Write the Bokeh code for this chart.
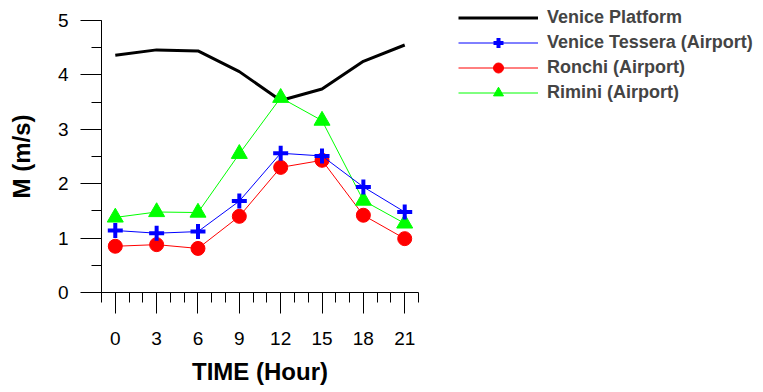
from bokeh.plotting import figure
from bokeh.models import Range1d, SingleIntervalTicker, Legend, LegendItem
from bokeh.embed import file_html
from bokeh.resources import INLINE

hours = [0, 3, 6, 9, 12, 15, 18, 21]
venice_platform = [4.36, 4.46, 4.44, 4.06, 3.53, 3.74, 4.25, 4.55]
venice_tessera = [1.14, 1.09, 1.12, 1.68, 2.56, 2.51, 1.94, 1.48]
ronchi = [0.85, 0.88, 0.81, 1.40, 2.30, 2.43, 1.42, 0.99]
rimini = [1.38, 1.48, 1.47, 2.55, 3.58, 3.16, 1.69, 1.27]
names = ["Venice Platform", "Venice Tessera (Airport)", "Ronchi (Airport)", "Rimini (Airport)"]

FONT = "Liberation Sans"

p = figure(frame_width=317, frame_height=272, x_range=Range1d(-1, 22), y_range=Range1d(0, 5),
           output_backend="svg", toolbar_location=None,
           min_border_left=101, min_border_right=0, min_border_top=20, min_border_bottom=91)
p.outline_line_color = None
p.xgrid.visible = False
p.ygrid.visible = False
p.background_fill_color = "white"
p.border_fill_color = "white"

p.xaxis.ticker = SingleIntervalTicker(interval=3, num_minor_ticks=3)
p.yaxis.ticker = SingleIntervalTicker(interval=1, num_minor_ticks=2)
for ax in (p.xaxis, p.yaxis):
    ax.major_tick_out = 21
    ax.major_tick_in = 0
    ax.minor_tick_out = 10
    ax.minor_tick_in = 0
    ax.axis_line_color = "black"
    ax.major_tick_line_color = "black"
    ax.minor_tick_line_color = "black"
    ax.major_label_text_font = FONT
    ax.major_label_text_font_size = "19px"
    ax.major_label_text_color = "black"
    ax.axis_label_text_font = FONT
    ax.axis_label_text_font_size = "24px"
    ax.axis_label_text_font_style = "bold"
    ax.axis_label_text_color = "black"
p.xaxis.axis_label = "TIME (Hour)"
p.yaxis.axis_label = "M (m/s)"
p.xaxis.major_label_standoff = 18
p.xaxis.axis_label_standoff = 10
p.yaxis.major_label_standoff = 12
p.yaxis.axis_label_standoff = 20

r_black = p.line(hours, venice_platform, line_color="black", line_width=3)
r_red_l = p.line(hours, ronchi, line_color="#FF0000", line_width=1)
r_red_m = p.scatter(hours, ronchi, marker="circle", size=14, fill_color="#FF0000", line_color="#FF0000")
r_grn_l = p.line(hours, rimini, line_color="#00FF00", line_width=1)
r_grn_m = p.scatter(hours, rimini, marker="triangle", size=16, fill_color="#00FF00", line_color="#00FF00")
r_blu_l = p.line(hours, venice_tessera, line_color="#0000FF", line_width=1)
r_blu_m = p.scatter(hours, venice_tessera, marker="cross", size=15, line_color="#0000FF", line_width=4)

legend = Legend(items=[
    LegendItem(label=names[0], renderers=[r_black]),
    LegendItem(label=names[1], renderers=[r_blu_l, r_blu_m]),
    LegendItem(label=names[2], renderers=[r_red_l, r_red_m]),
    LegendItem(label=names[3], renderers=[r_grn_l, r_grn_m]),
], location=(40, 187), glyph_width=80, glyph_height=25, label_standoff=9, spacing=0,
   padding=0, margin=0, border_line_alpha=0, background_fill_alpha=0,
   label_text_font=FONT, label_text_font_size="18px", label_text_font_style="bold",
   label_height=20)
p.add_layout(legend, "right")

open("out.html", "w").write(file_html(p, INLINE))
